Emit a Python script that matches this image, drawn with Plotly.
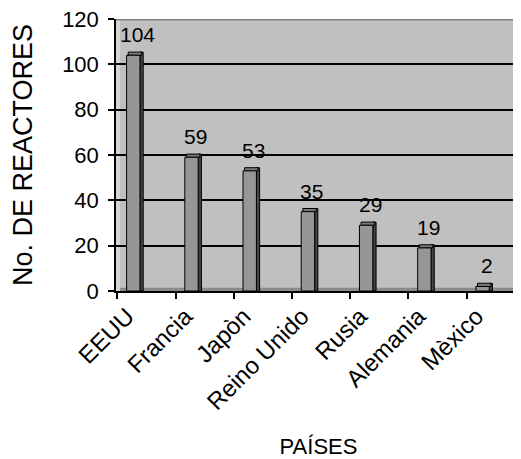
import plotly.graph_objects as go

paises = ["EEUU", "Francia", "Japòn", "Reino Unido", "Rusia", "Alemania", "Mèxico"]
reactores = [104, 59, 53, 35, 29, 19, 2]
y_ticks = [0, 20, 40, 60, 80, 100, 120]

FONT = "Liberation Sans, Arial, sans-serif"
idx = list(range(len(paises)))
bar_w = 0.23     # front face width (category units)
depth_x = 0.055  # 3D depth in category units
depth_y = 1.4    # 3D depth in value units

fig = go.Figure()
# side face (dark)
fig.add_trace(go.Bar(
    x=idx, y=[v + depth_y for v in reactores], base=0,
    offset=bar_w / 2, width=depth_x,
    marker=dict(color="#454545", line=dict(color="black", width=1)),
    hoverinfo="skip", showlegend=False))
# top face
fig.add_trace(go.Bar(
    x=idx, y=[depth_y] * len(reactores), base=reactores,
    offset=-bar_w / 2 + depth_x / 2, width=bar_w,
    marker=dict(color="#7a7a7a", line=dict(color="black", width=1)),
    hoverinfo="skip", showlegend=False))
# front face
fig.add_trace(go.Bar(
    x=idx, y=reactores, width=bar_w,
    marker=dict(color="#969696", line=dict(color="black", width=1)),
    showlegend=False))

annotations = [
    dict(x=i, y=v, xref="x", yref="y", text=str(v), showarrow=False,
         yanchor="bottom", yshift=7, xshift=4,
         font=dict(family=FONT, size=21, color="black"))
    for i, v in zip(idx, reactores)
]

# the page body has an 8px margin, so the figure is 8px smaller than the window
fig.update_layout(
    width=513, height=451,
    margin=dict(l=108, r=0, t=11, b=168),
    paper_bgcolor="white",
    plot_bgcolor="#c0c0c0",
    barmode="overlay",
    font=dict(family=FONT, color="black"),
    annotations=annotations,
    shapes=[
        dict(type="rect", xref="paper", yref="y", x0=0, x1=1, y0=0, y1=depth_y,
             fillcolor="#8c8c8c", line=dict(width=0), layer="below"),
        dict(type="rect", xref="paper", yref="y", x0=0, x1=0.01, y0=0, y1=120,
             fillcolor="#d4d4d4", line=dict(width=0), layer="below"),
        dict(type="line", xref="paper", yref="y", x0=0, x1=1, y0=120, y1=120,
             line=dict(color="#808080", width=3)),
    ],
)
fig.update_xaxes(
    automargin=False,
    range=[-0.297, 6.66],
    tickmode="array", tickvals=idx, ticktext=paises,
    tickangle=-45, ticks="", tickfont=dict(size=24),
    ticklabelshift=-6, ticklabeloverflow="allow",
    showline=True, linecolor="black", linewidth=1.5,
    showgrid=False, zeroline=False,
    minor=dict(tickmode="array", tickvals=[i - 0.275 for i in idx],
               ticks="outside", ticklen=6, tickcolor="black", tickwidth=1.5,
               showgrid=False),
    title=dict(text="PAÍSES", font=dict(size=22), standoff=35),
)
fig.update_yaxes(
    automargin=False,
    range=[0, 120], tickmode="array", tickvals=y_ticks,
    ticks="outside", ticklen=6, tickcolor="black", tickwidth=1.5,
    tickfont=dict(size=22), ticklabelstandoff=5, ticklabeloverflow="allow",
    showline=True, linecolor="black", linewidth=1.5,
    showgrid=True, gridcolor="black", gridwidth=2, zeroline=False,
    title=dict(text="No. DE REACTORES", font=dict(size=27), standoff=24),
)

fig.write_html("out.html")
